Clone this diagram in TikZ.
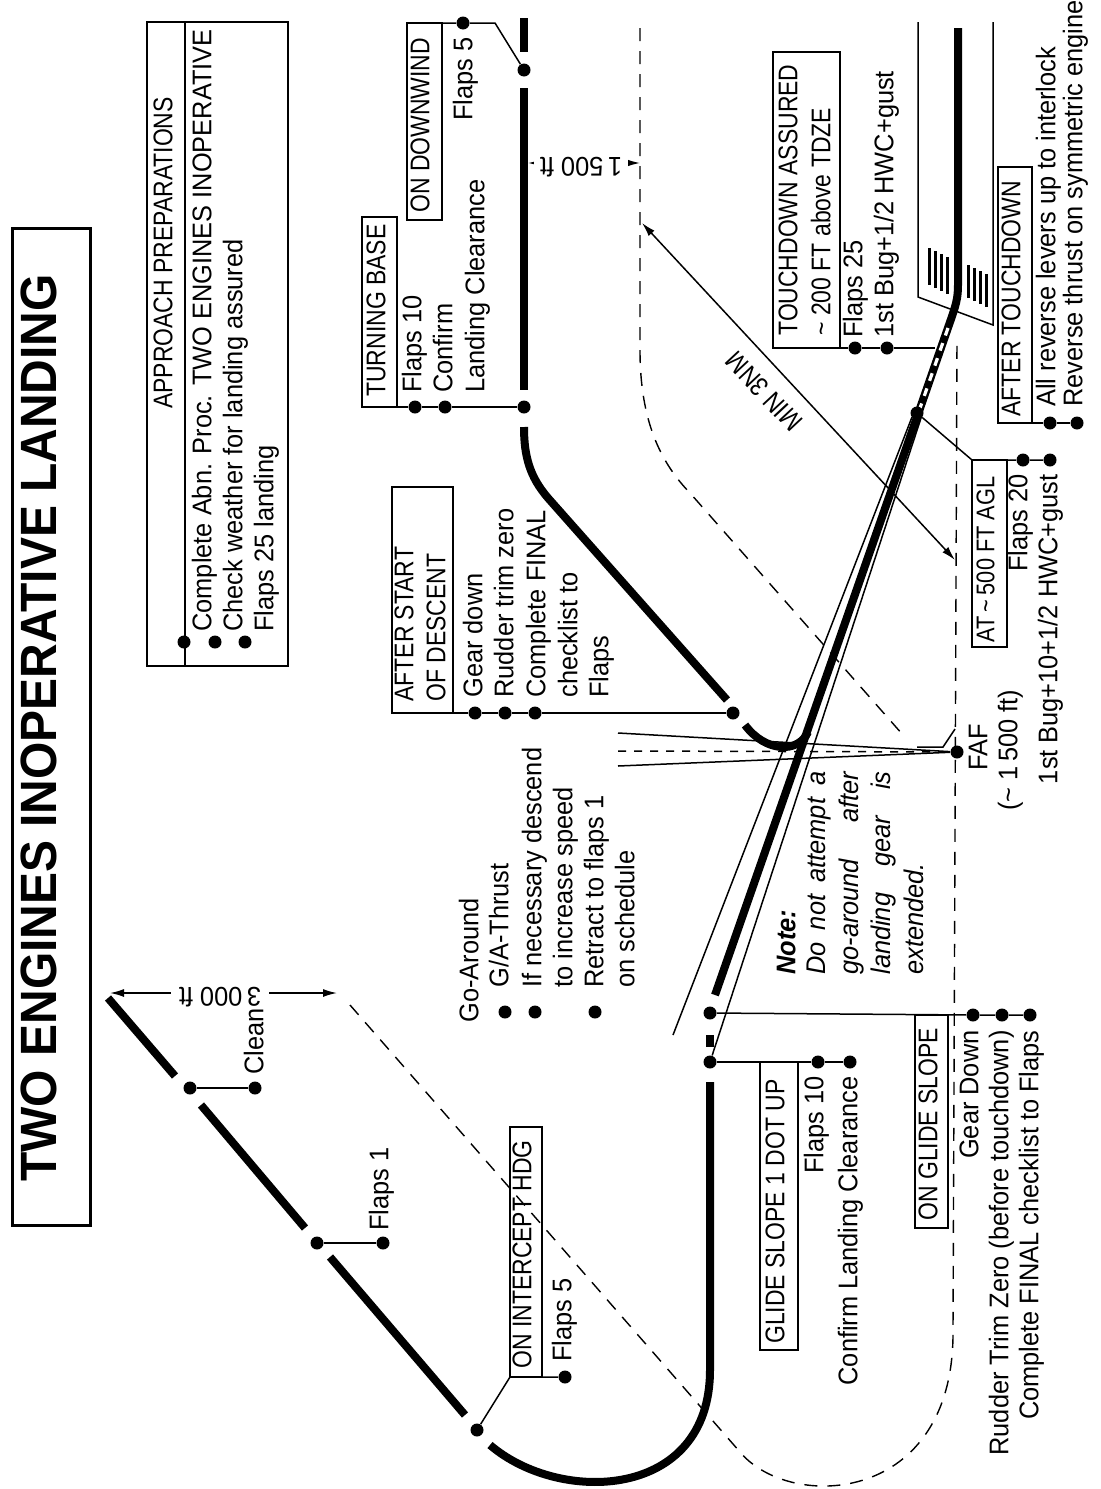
\documentclass[tikz,border=0pt]{standalone}
\usepackage{fontspec}
\setmainfont{Liberation Sans}[FakeStretch=0.94]
\newfontfamily\capsfont{Liberation Sans}[FakeStretch=0.85]
\usetikzlibrary{arrows.meta}
\newcommand\myfs{\fontsize{13.5}{16}\selectfont}
\begin{document}
\begin{tikzpicture}[x=0.5pt,y=-0.5pt,
  every node/.style={font=\myfs, inner sep=0pt, text height=0.72em, text depth=0.18em},
  L/.style={rotate=90, anchor=west},
  R/.style={rotate=90, anchor=east},
  C/.style={rotate=90},
  H/.style={rotate=90, anchor=west, font=\myfs\capsfont},
  fpath/.style={line width=4pt},
  thin/.style={line width=0.75pt},
  box/.style={draw, line width=0.8pt},
  dot/.style={circle, fill, inner sep=0pt, minimum size=6.5pt, text height=0pt, text depth=0pt},
  dashA/.style={line width=0.7pt, dash pattern=on 6.5pt off 5pt},
  >={Latex[length=7pt,width=4pt]},
]
\fill[white] (0,0) rectangle (1100,1489);
\useasboundingbox (0,0) rectangle (1100,1489);

% title
\draw[line width=1.5pt] (12,228) rectangle (90,1225);
\node[C, font=\fontsize{25.5}{30}\selectfont\bfseries] (title) at (51,728) {TWO ENGINES INOPERATIVE LANDING};

% approach preparations
\draw[line width=1.2pt] (147,22) rectangle (288,666);
\coordinate (apT) at (185,22); \coordinate (apB) at (185,666);
\draw[thin] (apT) -- (apB);
\node[C, font=\myfs\capsfont] (apH) at (167,253) {APPROACH PREPARATIONS};
\node[L] (ap1) at (206,632) {Complete Abn. Proc. TWO ENGINES INOPERATIVE};
\node[L] (ap2) at (237,632) {Check weather for landing assured};
\node[L] (ap3) at (268,632) {Flaps 25 landing};
\node[dot] (apd1) at (184,642) {};
\node[dot] (apd2) at (215,642) {};
\node[dot] (apd3) at (245,642) {};

% dashed reference tracks
\draw[dashA] (350,1005) -- (740,1452) .. controls (790,1512) and (955,1505) .. (953,1330) -- (957,337);
\draw[dashA] (640,28) -- (640,350) .. controls (640,420) and (660,462) .. (690,493) -- (903,735);

% runway
\draw[thin] (918,22) -- (918,297) -- (993,325) -- (993,22);
\foreach \i/\x in {0/929,1/935,2/941,3/947} \draw[line width=1.5pt] (\x,248+3*\i) -- (\x,285+3*\i);
\foreach \i/\x in {0/968,1/974,2/980,3/986} \draw[line width=1.5pt] (\x,265+3*\i) -- (\x,298+3*\i);

% localizer / glide slope beams
\node[dot] (faf) at (957,752) {};
\coordinate (lu) at (618,733); \coordinate (lm) at (618,751); \coordinate (ll) at (618,766);
\draw[thin] (lu) -- (faf);
\draw[thin] (ll) -- (faf);
\draw[thin, dash pattern=on 4pt off 4pt] (lm) -- (faf);
\coordinate (bl0) at (673,1035); \coordinate (bl1) at (912,417); \coordinate (br1) at (922,415);

% flight path
\draw[fpath] (108,998) -- (175,1076);
\draw[fpath] (201,1105) -- (305,1228);
\draw[fpath] (330,1257) -- (465,1415);
\draw[fpath] (490,1445) .. controls (560,1505) and (710,1500) .. (710,1370) -- (710,1082);
\draw[fpath] (710,1035) -- (710,1047);
\draw[fpath] (715,995) -- (917,417) -- (950,322) .. controls (956,305) and (958,298) .. (958,285) -- (958,28);
\draw[white, line width=1.6pt, dash pattern=on 4pt off 4pt] (919,411) -- (948,328);
\draw[fpath] (524,18) -- (524,52);
\draw[fpath] (524,88) -- (524,390);
\draw[fpath] (524,427) .. controls (524,457) and (530,477) .. (548,498) -- (727,700);
\draw[fpath] (745,725) .. controls (765,752) and (798,754) .. (808,732);

\node[dot] (pd1) at (190,1088) {};
\node[dot] (pd2) at (317,1243) {};
\node[dot] (pd3) at (477,1430) {};
\node[dot] (pd4) at (710,1062) {};
\node[dot] (pd5) at (710,1013) {};
\node[dot] (pd6) at (524,70) {};
\node[dot] (pd7) at (524,407) {};
\node[dot] (pd8) at (733,713) {};
\node[dot] (pd9) at (917,413) {};

\draw[thin] (bl0) -- (bl1);
\draw[thin] (pd4) -- (br1);

% 3000 ft dimension
\coordinate (a3l) at (110,993); \coordinate (a3r) at (337,993);
\draw[thin, <->] (a3l) -- (a3r);
\node[rotate=180, fill=white, inner xsep=4pt] (d3000) at (220,993) {3\,000 ft};

% 1500 ft dimension
\coordinate (a1l) at (528,163); \coordinate (a1r) at (640,163);
\draw[thin, <->] (a1l) -- (a1r);
\node[rotate=180, fill=white, inner xsep=3pt] (d1500) at (581,163) {1\,500 ft};

% clean
\node[dot] (cld) at (255,1088) {};
\draw[thin] (pd1) -- (cld);
\node[L] (clean) at (258,1075) {Clean};

% flaps 1
\node[dot] (f1d) at (383,1243) {};
\draw[thin] (pd2) -- (f1d);
\node[L] (f1) at (383,1231) {Flaps 1};

% on intercept hdg
\draw[box] (510,1127) rectangle (542,1377);
\node[H] (oih) at (526,1369) {ON INTERCEPT HDG};
\coordinate (oic) at (510,1377);
\node[dot] (oid) at (565,1377) {};
\draw[thin] (pd3) -- (oic) -- (oid);
\node[L] (oif) at (566,1362) {Flaps 5};

% glide slope 1 dot up
\draw[box] (760,1062) rectangle (798,1350);
\node[H] (g1h) at (779,1344) {GLIDE SLOPE 1 DOT UP};
\node[dot] (g1d1) at (818,1062) {};
\node[dot] (g1d2) at (850,1062) {};
\draw[thin] (pd4) -- (g1d1) -- (g1d2);
\node[R] (g1a) at (818,1076) {Flaps 10};
\node[R] (g1b) at (852,1076) {Confirm Landing Clearance};

% on glide slope
\draw[box] (915,1015) rectangle (948,1228);
\node[H] (gsh) at (932,1221) {ON GLIDE SLOPE};
\node[dot] (gsd1) at (973,1015) {};
\node[dot] (gsd2) at (1002,1015) {};
\node[dot] (gsd3) at (1030,1015) {};
\draw[thin] (pd5) -- (gsd1) -- (gsd2) -- (gsd3);
\node[R] (gsa) at (973,1030) {Gear Down};
\node[R] (gsb) at (1003,1030) {Rudder Trim Zero (before touchdown)};
\node[R] (gsc) at (1033,1030) {Complete FINAL checklist to Flaps};

% go-around
\node[L] (ga0) at (473,1023) {Go-Around};
\node[L] (ga1) at (503,988) {G/A-Thrust};
\node[L] (ga2) at (536,988) {If necessary descend};
\node[L] (ga3) at (567,988) {to increase speed};
\node[L] (ga4) at (598,988) {Retract to flaps 1};
\node[L] (ga5) at (629,988) {on schedule};
\node[dot] (gad1) at (505,1012) {};
\node[dot] (gad2) at (535,1012) {};
\node[dot] (gad3) at (595,1012) {};

% note
\node[L] (n0) at (790,975) {\bfseries\itshape Note:};
\node[L] (n1) at (820,975) {\itshape\makebox[101.5pt][s]{Do not attempt a}};
\node[L] (n2) at (853,975) {\itshape\makebox[101.5pt][s]{go-around after}};
\node[L] (n3) at (885,975) {\itshape\makebox[101.5pt][s]{landing gear is}};
\node[L] (n4) at (918,975) {\itshape extended.};

% FAF
\node[C] (fafl) at (982,747) {FAF};
\node[C] (fafa) at (1012,750) {(\textasciitilde\ 1\,500 ft)};
\coordinate (hk1) at (917,747); \coordinate (hk2) at (943,747); \coordinate (hk3) at (955,729);
\draw[thin] (hk1) -- (hk2) -- (hk3);

% at 500 ft agl
\draw[box] (972,460) rectangle (1007,647);
\node[H, font=\fontsize{12.8}{15}\selectfont\capsfont] (ath) at (989,643) {AT\,\textasciitilde\,500 FT AGL};
\coordinate (atc) at (972,460);
\node[dot] (atd1) at (1023,460) {};
\node[dot] (atd2) at (1050,460) {};
\draw[thin] (pd9) -- (atc) -- (atd1) -- (atd2);
\node[R] (ata) at (1022,474) {Flaps 20};
\node[R] (atb) at (1052,474) {1st Bug+10+1/2 HWC+gust};

% MIN 3NM
\coordinate (m1) at (642,223); \coordinate (m2) at (955,560);
\draw[thin, <->] (m1) -- (m2);
\node[rotate=133, font=\myfs\capsfont] (min) at (767,389) {MIN 3NM};

% touchdown assured
\draw[box] (773,52) rectangle (840,348);
\node[H] (tdh1) at (792,336) {TOUCHDOWN ASSURED};
\node[H] (tdh2) at (825,336) {\textasciitilde\ 200 FT above TDZE};
\coordinate (tdc) at (773,348); \coordinate (tde) at (935,348);
\node[dot] (tdd1) at (855,348) {};
\node[dot] (tdd2) at (887,348) {};
\draw[thin] (tdc) -- (tdd1) -- (tdd2) -- (tde);
\node[L] (tda) at (857,338) {Flaps 25};
\node[L] (tdb) at (888,338) {1st Bug+1/2 HWC+gust};

% after touchdown
\draw[box] (998,167) rectangle (1032,423);
\node[H] (ath2) at (1015,417) {AFTER TOUCHDOWN};
\coordinate (atdc) at (998,423);
\node[dot] (atdd1) at (1050,423) {};
\node[dot] (atdd2) at (1077,423) {};
\draw[thin] (atdc) -- (atdd1) -- (atdd2);
\node[L] (atda) at (1050,407) {All reverse levers up to interlock};
\node[L] (atdb) at (1077,407) {Reverse thrust on symmetric engine};

% turning base
\draw[box] (362,217) rectangle (397,407);
\node[H] (tbh) at (380,397) {TURNING BASE};
\coordinate (tbc) at (362,407);
\node[dot] (tbd1) at (415,407) {};
\node[dot] (tbd2) at (445,407) {};
\draw[thin] (tbc) -- (tbd1) -- (tbd2) -- (pd7);
\node[L] (tba) at (416,393) {Flaps 10};
\node[L] (tbb) at (447,393) {Confirm};
\node[L] (tbc2) at (479,393) {Landing Clearance};

% on downwind
\draw[box] (407,23) rectangle (442,220);
\node[H] (dwh) at (424,213) {ON DOWNWIND};
\coordinate (dwc) at (407,23); \coordinate (dwk) at (495,23);
\node[dot] (dwd) at (463,23) {};
\draw[thin] (dwc) -- (dwd) -- (dwk) -- (pd6);
\node[R] (dwa) at (467,37) {Flaps 5};

% after start of descent
\draw[box] (392,487) rectangle (453,713);
\node[H] (dsh1) at (408,702) {AFTER START};
\node[H] (dsh2) at (440,702) {OF DESCENT};
\coordinate (dsc) at (392,713);
\node[dot] (dsd1) at (475,713) {};
\node[dot] (dsd2) at (505,713) {};
\node[dot] (dsd3) at (535,713) {};
\draw[thin] (dsc) -- (dsd1) -- (dsd2) -- (dsd3) -- (pd8);
\node[L] (dsa) at (477,698) {Gear down};
\node[L] (dsb) at (508,698) {Rudder trim zero};
\node[L] (dsc2) at (540,698) {Complete FINAL};
\node[L] (dsd) at (572,698) {checklist to};
\node[L] (dse) at (603,698) {Flaps};
\end{tikzpicture}
\end{document}
